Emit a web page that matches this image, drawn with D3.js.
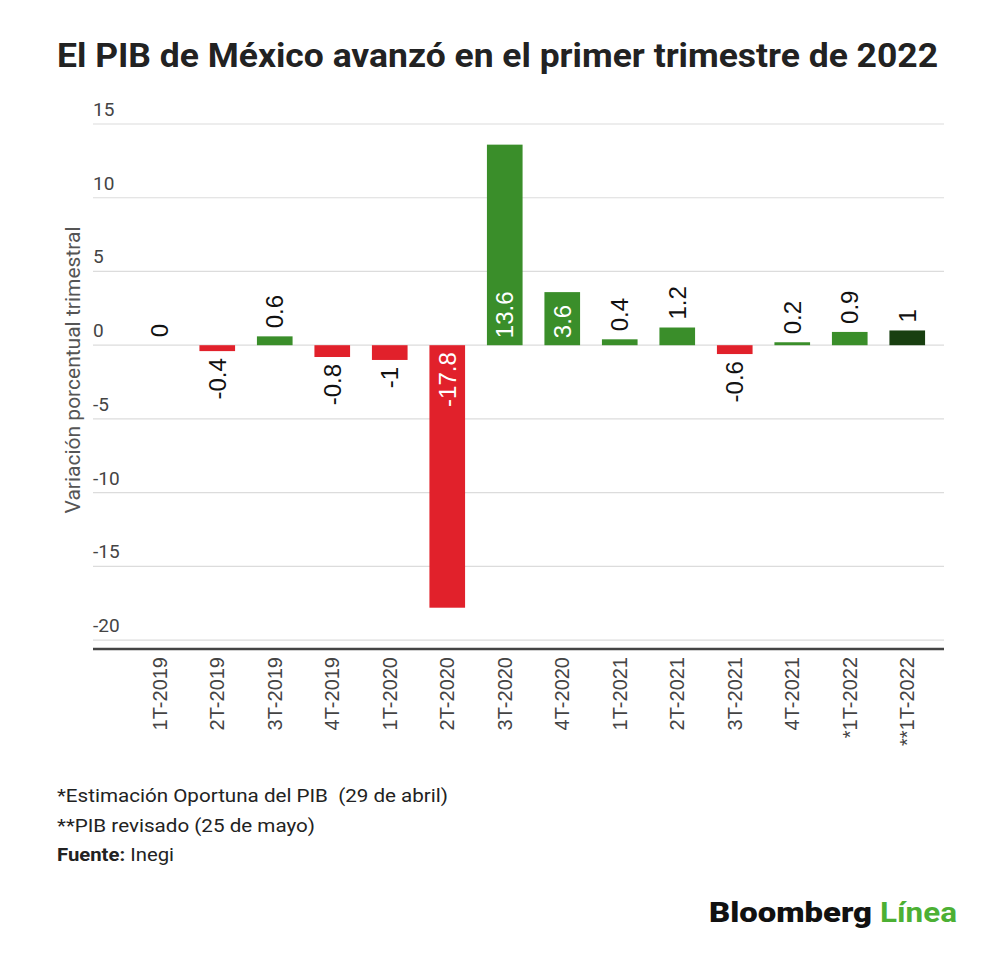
<!DOCTYPE html>
<html>
<head>
<meta charset="utf-8">
<script src="https://cdn.jsdelivr.net/npm/d3@7"></script>
<style>
  body { margin: 0; background: #fff; }
</style>
</head>
<body>
<div id="chart"></div>
<script>
// datos del gráfico
const categories = ["1T-2019", "2T-2019", "3T-2019", "4T-2019", "1T-2020", "2T-2020", "3T-2020",
  "4T-2020", "1T-2021", "2T-2021", "3T-2021", "4T-2021", "*1T-2022", "**1T-2022"];
const values = [0, -0.4, 0.6, -0.8, -1, -17.8, 13.6, 3.6, 0.4, 1.2, -0.6, 0.2, 0.9, 1];
const yTicks = [15, 10, 5, 0, -5, -10, -15, -20];
const notes = ["*Estimación Oportuna del PIB  (29 de abril)", "**PIB revisado (25 de mayo)"];

const width = 1000, height = 960;

const svg = d3.select("#chart")
  .append("svg")
  .attr("width", width)
  .attr("height", height);

// titulo
svg.append("text")
  .attr("x", 57)
  .attr("y", 67)
  .attr("font-family", "Roboto")
  .attr("font-weight", "bold")
  .attr("font-size", "34px")
  .attr("fill", "#222")
  .attr("textLength", 881)
  .attr("lengthAdjust", "spacingAndGlyphs")
  .text("El PIB de México avanzó en el primer trimestre de 2022");

const x = d3.scaleBand()
  .domain(categories)
  .range([131, 936])
  .paddingInner(0.38)
  .paddingOuter(0.19);

const y = d3.scaleLinear()
  .domain([-20.6, 15])
  .range([649, 124]);

// lineas de la cuadricula
svg.selectAll(".grid")
  .data(yTicks)
  .enter()
  .append("line")
    .attr("x1", 93)
    .attr("x2", 944)
    .attr("y1", d => y(d))
    .attr("y2", d => y(d))
    .attr("stroke", "#dcdcdc")
    .attr("stroke-width", 1.2);

svg.selectAll(".ylab")
  .data(yTicks)
  .enter()
  .append("text")
    .attr("x", 93)
    .attr("y", d => y(d) - 8)
    .attr("font-family", "Roboto")
    .attr("font-size", "19px")
    .attr("fill", "#444")
    .text(d => d);

// titulo del eje y
svg.append("text")
  .attr("transform", "translate(80,370) rotate(-90)")
  .attr("text-anchor", "middle")
  .attr("font-family", "Roboto")
  .attr("font-size", "21px")
  .attr("fill", "#555")
  .text("Variación porcentual trimestral");

// barras
function barColor(d, i) {
  if (i === categories.length - 1) return "#183f10";
  return d < 0 ? "#e1212b" : "#3a8e2a";
}

svg.selectAll(".bar")
  .data(values)
  .enter()
  .append("rect")
    .attr("x", (d, i) => x(categories[i]))
    .attr("y", d => y(Math.max(0, d)))
    .attr("width", x.bandwidth())
    .attr("height", d => Math.abs(y(d) - y(0)))
    .attr("fill", barColor);

// etiquetas de valor (dentro de la barra si es larga)
svg.selectAll(".val")
  .data(values)
  .enter()
  .append("text")
    .attr("transform", (d, i) => {
      const inside = Math.abs(d) >= 3;
      const cx = x(categories[i]) + x.bandwidth() / 2;
      let ty;
      if (inside) ty = d > 0 ? y(0) - 7 : y(0) + 7;
      else ty = d >= 0 ? y(d) - 8 : y(d) + 7;
      return "translate(" + cx + "," + ty + ") rotate(-90)";
    })
    .attr("text-anchor", d => d >= 0 ? "start" : "end")
    .attr("dy", "0.36em")
    .attr("font-family", "Liberation Sans, Arial")
    .attr("font-size", "24px")
    .attr("fill", d => Math.abs(d) >= 3 ? "#fff" : "#111")
    .text(d => d);

// eje x
svg.append("line")
  .attr("x1", 93)
  .attr("x2", 944)
  .attr("y1", 649)
  .attr("y2", 649)
  .attr("stroke", "#444")
  .attr("stroke-width", 2.5);

svg.selectAll(".xlab")
  .data(categories)
  .enter()
  .append("text")
    .attr("transform", d => "translate(" + (x(d) + x.bandwidth() / 2) + ",657) rotate(-90)")
    .attr("text-anchor", "end")
    .attr("dy", "0.36em")
    .attr("font-family", "Liberation Sans, Arial")
    .attr("font-size", "20px")
    .attr("fill", "#444")
    .text(d => d);

// notas
const noteLen = [391, 258];
svg.selectAll(".note")
  .data(notes)
  .enter()
  .append("text")
    .attr("x", 57)
    .attr("y", (d, i) => 802 + i * 30)
    .attr("font-family", "Roboto")
    .attr("font-size", "19px")
    .attr("fill", "#222")
    .style("white-space", "pre")
    .attr("textLength", (d, i) => noteLen[i])
    .attr("lengthAdjust", "spacingAndGlyphs")
    .text(d => d);

const src = svg.append("text")
  .attr("x", 57)
  .attr("y", 861)
  .attr("font-family", "Roboto")
  .attr("font-size", "19px")
  .attr("fill", "#222")
  .attr("textLength", 117)
  .attr("lengthAdjust", "spacingAndGlyphs");
src.append("tspan").attr("font-weight", "bold").text("Fuente:");
src.append("tspan").text(" Inegi");

// logo
svg.append("text")
  .attr("x", 709)
  .attr("y", 922)
  .attr("font-family", "Roboto")
  .attr("font-weight", "900")
  .attr("font-size", "28px")
  .attr("fill", "#111")
  .attr("textLength", 163)
  .attr("lengthAdjust", "spacingAndGlyphs")
  .text("Bloomberg");

svg.append("text")
  .attr("x", 880)
  .attr("y", 922)
  .attr("font-family", "Roboto")
  .attr("font-weight", "bold")
  .attr("font-size", "28px")
  .attr("fill", "#4cb034")
  .attr("textLength", 77)
  .attr("lengthAdjust", "spacingAndGlyphs")
  .text("Línea");
</script>
</body>
</html>
